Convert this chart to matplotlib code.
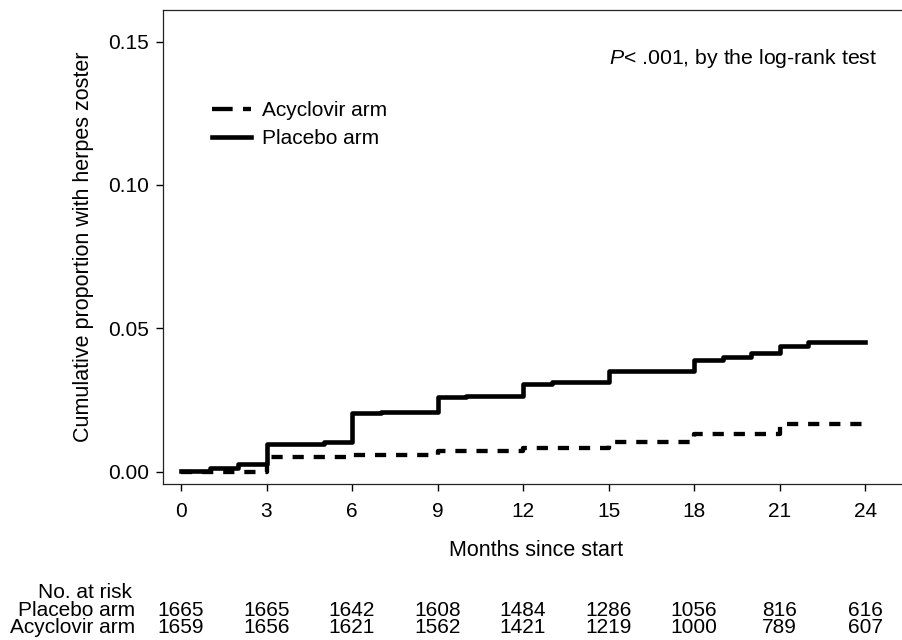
import matplotlib
matplotlib.use("Agg")
import matplotlib.pyplot as plt
from matplotlib.transforms import blended_transform_factory

plt.rcParams['font.family'] = ['Liberation Sans', 'DejaVu Sans']
plt.rcParams['mathtext.fontset'] = 'custom'
plt.rcParams['mathtext.it'] = 'Liberation Sans:italic'
plt.rcParams['mathtext.rm'] = 'Liberation Sans'

# step curves (month of each step, cumulative proportion)
months_placebo = [0, 1, 2, 3, 5, 6, 7, 9, 10, 12, 13, 15, 18, 19, 20, 21, 22, 24]
cum_placebo = [0.0003, 0.0014, 0.0027, 0.0097, 0.0105, 0.0205, 0.0209, 0.0262, 0.0264,
               0.0306, 0.0312, 0.0351, 0.0390, 0.0401, 0.0414, 0.0440, 0.0453, 0.0453]
months_acyclovir = [0, 3, 6, 9, 12, 15, 18, 21, 24]
cum_acyclovir = [0.0, 0.0052, 0.0058, 0.0073, 0.0084, 0.0103, 0.0131, 0.0166, 0.0166]

# number at risk table
risk_months = [0, 3, 6, 9, 12, 15, 18, 21, 24]
risk_placebo = [1665, 1665, 1642, 1608, 1484, 1286, 1056, 816, 616]
risk_acyclovir = [1659, 1656, 1621, 1562, 1421, 1219, 1000, 789, 607]

yticks = [0.0, 0.05, 0.10, 0.15]

W, H = 902, 640
fig = plt.figure(figsize=(W / 100, H / 100), dpi=100)
ax = fig.add_axes([163 / W, 1 - 483.5 / H, (909 - 163) / W, (483.5 - 10) / H])

ax.plot(months_acyclovir, cum_acyclovir, drawstyle='steps-post', color='black',
        lw=3.1, linestyle=(0, (2.6, 2.3)), label='Acyclovir arm')
ax.plot(months_placebo, cum_placebo, drawstyle='steps-post', color='black',
        lw=3.3, label='Placebo arm')

ax.set_xlim(-0.632, 25.54)
ax.set_ylim(-0.0041, 0.1610)
ax.set_xticks(risk_months)
ax.set_yticks(yticks)
ax.set_yticklabels(['%.2f' % v for v in yticks])
ax.tick_params(labelsize=15, length=5, width=1, direction='out')
ax.tick_params(axis='x', pad=8)
ax.tick_params(axis='y', pad=5)
ax.spines['right'].set_visible(False)
for s in ['left', 'top', 'bottom']:
    ax.spines[s].set_linewidth(0.9)
    ax.spines[s].set_color('#222222')

ax.set_xlabel('Months since start', fontsize=15.5, labelpad=14)
ax.set_ylabel('Cumulative proportion with herpes zoster', fontsize=15.5, labelpad=10)

leg = ax.legend(loc='upper left', bbox_to_anchor=((212 - 163) / 746, (483.5 - 101) / 473.5),
                frameon=False, fontsize=15, handlelength=1.85, handletextpad=0.55,
                borderpad=0, borderaxespad=0, labelspacing=0.45)
# reference legend shows two longer dashes for the acyclovir key
leg.get_lines()[0].set_linestyle((0, (4.8, 2.4)))

ax.text(0.957, (483.5 - 58) / 473.5, r'$P$< .001, by the log-rank test', transform=ax.transAxes,
        ha='right', va='center', fontsize=15.3)

# no. at risk rows
tr = blended_transform_factory(ax.transData, fig.transFigure)
fig.text(85 / W, 1 - 592 / H, 'No. at risk', ha='center', va='center', fontsize=15)
fig.text(135 / W, 1 - 610 / H, 'Placebo arm', ha='right', va='center', fontsize=15)
fig.text(135 / W, 1 - 627.5 / H, 'Acyclovir arm', ha='right', va='center', fontsize=15)
for m, p, a in zip(risk_months, risk_placebo, risk_acyclovir):
    fig.text(m, 1 - 610 / H, str(p), transform=tr, ha='center', va='center', fontsize=15)
    fig.text(m, 1 - 627.5 / H, str(a), transform=tr, ha='center', va='center', fontsize=15)

fig.savefig('out.png', dpi=100)
